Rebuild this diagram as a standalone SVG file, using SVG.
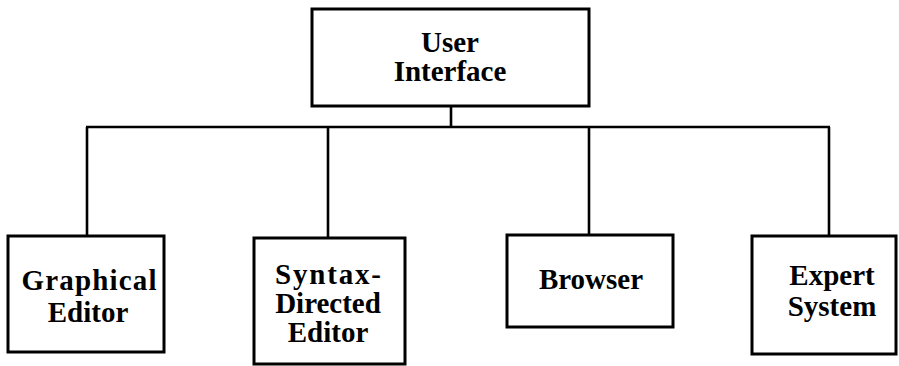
<svg xmlns="http://www.w3.org/2000/svg" width="899" height="366" viewBox="0 0 899 366">
<style>
.box{fill:#fff;stroke:#000;stroke-width:3}
.conn{fill:none;stroke:#000;stroke-width:2.6}
text{font-family:"Liberation Serif","Times New Roman",serif;font-weight:bold;font-size:29px;fill:#000;text-anchor:middle}
</style>
<rect width="899" height="366" fill="#fff"/>
<g id="connectors">
<line class="conn" x1="451" y1="106" x2="451" y2="127"/>
<line class="conn" x1="86" y1="127" x2="830" y2="127"/>
<line class="conn" x1="87" y1="127" x2="87" y2="236"/>
<line class="conn" x1="328" y1="127" x2="328" y2="238"/>
<line class="conn" x1="589" y1="127" x2="589" y2="235"/>
<line class="conn" x1="829" y1="127" x2="829" y2="236"/>
</g>
<g id="user-interface">
<rect class="box" x="312" y="9" width="277" height="97"/>
<text x="450" y="52">User</text>
<text x="450" y="81">Interface</text>
</g>
<g id="graphical-editor">
<rect class="box" x="8" y="236" width="156" height="116"/>
<text x="89" y="290" textLength="135" lengthAdjust="spacing">Graphical</text>
<text x="88" y="322">Editor</text>
</g>
<g id="syntax-directed-editor">
<rect class="box" x="254" y="238" width="151" height="126"/>
<text x="328" y="284" textLength="106" lengthAdjust="spacing">Syntax-</text>
<text x="328" y="313">Directed</text>
<text x="328" y="342">Editor</text>
</g>
<g id="browser">
<rect class="box" x="507" y="235" width="166" height="92"/>
<text x="591" y="289">Browser</text>
</g>
<g id="expert-system">
<rect class="box" x="752" y="236" width="144" height="118"/>
<text x="832" y="285">Expert</text>
<text x="832" y="316">System</text>
</g>
</svg>
